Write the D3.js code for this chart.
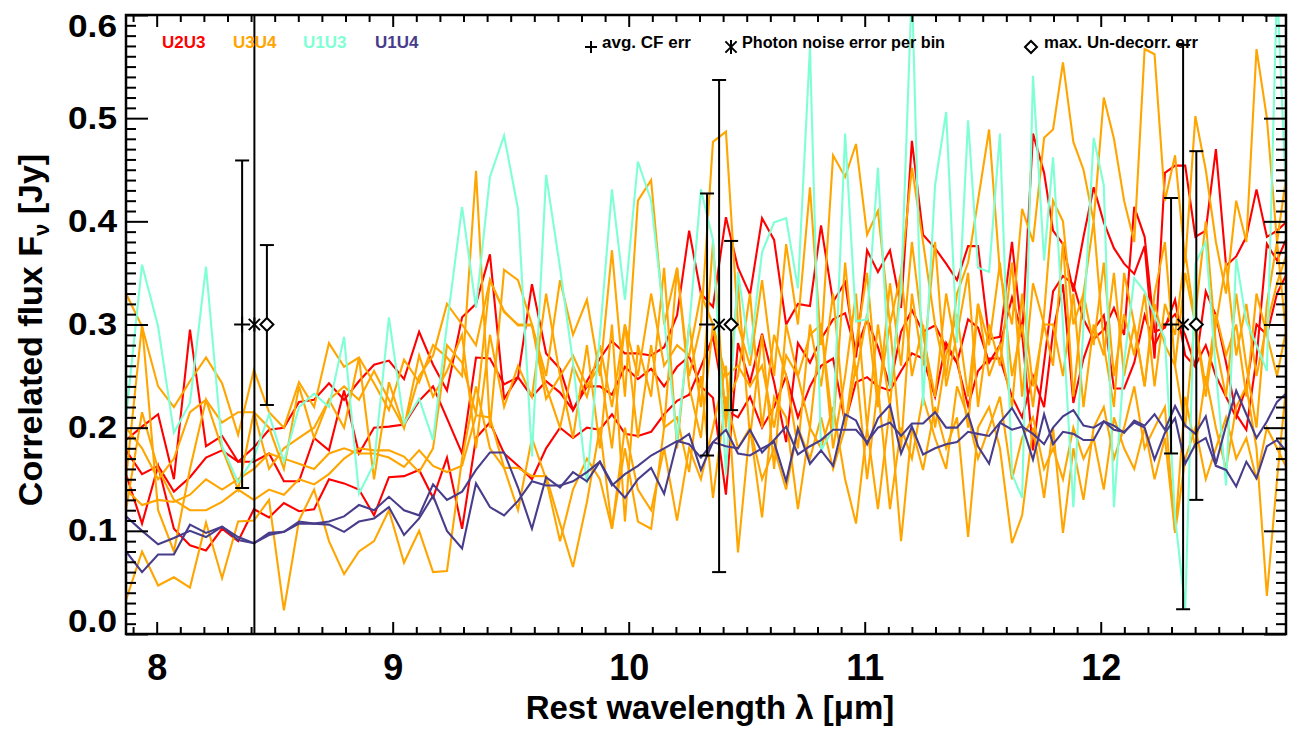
<!DOCTYPE html>
<html><head><meta charset="utf-8">
<script src="https://cdn.jsdelivr.net/npm/d3@7"></script>
<style>
body{margin:0;background:#fff}
svg{display:block}
text{font-family:"Liberation Sans",Arial,Helvetica,sans-serif;font-weight:bold}
</style>
</head><body>
<svg id="c" width="1289" height="730"></svg>
<script>
// ---------------- DATA ----------------
const wavelength = [
7.870, 7.938, 8.006, 8.073, 8.141, 8.209, 8.277, 8.345, 8.412,
8.476, 8.539, 8.603, 8.667, 8.730, 8.794, 8.857, 8.921, 8.984, 9.048, 9.112,
9.171, 9.230, 9.294, 9.353, 9.412, 9.472, 9.531, 9.590, 9.650, 9.709, 9.764, 9.823,
9.878, 9.929, 9.984, 10.039, 10.095, 10.150, 10.205, 10.256, 10.306, 10.357,
10.412, 10.463, 10.514, 10.565, 10.616, 10.667, 10.717, 10.768, 10.815,
10.866, 10.917, 10.963, 11.010, 11.056, 11.107, 11.154, 11.200, 11.247, 11.298,
11.345, 11.391, 11.438, 11.480, 11.527, 11.573, 11.624, 11.667, 11.713, 11.760,
11.798,
11.840, 11.884, 11.927, 11.970, 12.013, 12.056, 12.099, 12.142, 12.186, 12.228,
12.272, 12.315, 12.358, 12.401, 12.445, 12.488, 12.531, 12.574, 12.617, 12.660,
12.704, 12.747, 12.790];

// U2U3 (red)
const u2u3_a = [
0.188,0.201,0.213,0.150,0.295,0.182,0.192,0.167,0.181,0.198,
0.200,0.225,0.227,0.243,0.227,0.245,0.261,0.265,0.247,0.293,
0.261,0.236,0.307,0.320,0.368,0.228,0.249,0.339,0.272,0.257,
0.217,0.245,0.267,0.284,0.272,0.272,0.270,0.278,0.309,0.391,
0.330,0.317,0.404,0.355,0.329,0.403,0.382,0.300,0.320,0.318,
0.396,0.322,0.341,0.268,0.372,0.351,0.372,0.316,0.478,0.387,
0.374,0.359,0.343,0.376,0.376,0.286,0.288,0.380,0.288,0.485,
0.447,0.391,0.378,0.332,0.385,0.433,0.399,0.374,0.359,0.349,
0.376,0.267,0.447,0.454,0.454,0.385,0.391,0.470,0.357,0.366,
0.385,0.431,0.385,0.391,0.400];
const u2u3_b = [
0.178,0.155,0.163,0.138,0.152,0.171,0.178,0.167,0.167,0.175,
0.148,0.148,0.190,0.178,0.236,0.175,0.200,0.201,0.203,0.226,
0.240,0.209,0.175,0.268,0.267,0.242,0.249,0.230,0.245,0.234,
0.217,0.240,0.240,0.232,0.259,0.247,0.257,0.240,0.259,0.269,
0.240,0.229,0.135,0.282,0.244,0.291,0.244,0.186,0.282,0.263,
0.286,0.305,0.311,0.274,0.305,0.278,0.240,0.293,0.314,0.293,
0.299,0.278,0.263,0.305,0.297,0.263,0.280,0.326,0.291,0.178,
0.263,0.332,0.347,0.339,0.305,0.286,0.295,0.316,0.290,0.414,
0.385,0.293,0.297,0.324,0.270,0.259,0.332,0.309,0.263,0.213,
0.198,0.267,0.378,0.362,0.385];
const u2u3_c = [
0.155,0.107,0.163,0.102,0.086,0.081,0.102,0.090,0.121,0.113,
0.127,0.119,0.121,0.150,0.146,0.140,0.115,0.152,0.153,0.159,
0.132,0.171,0.102,0.190,0.205,0.175,0.163,0.150,0.180,0.200,
0.190,0.200,0.198,0.213,0.194,0.192,0.196,0.213,0.226,0.232,
0.259,0.288,0.217,0.210,0.230,0.200,0.220,0.250,0.210,0.240,
0.260,0.267,0.205,0.244,0.249,0.240,0.236,0.255,0.272,0.267,
0.230,0.282,0.263,0.221,0.255,0.267,0.267,0.230,0.210,0.250,
0.220,0.293,0.339,0.224,0.267,0.295,0.309,0.238,0.238,0.263,
0.309,0.280,0.300,0.310,0.290,0.260,0.280,0.250,0.230,0.210,
0.240,0.300,0.290,0.330,0.350];

// U3U4 (orange)
const u3u4_a = [
0.330,0.298,0.240,0.220,0.245,0.268,0.243,0.193,0.256,0.215,
0.200,0.244,0.220,0.282,0.259,0.268,0.243,0.217,0.266,0.244,
0.280,0.268,0.250,0.449,0.200,0.353,0.343,0.300,0.250,0.343,
0.290,0.324,0.250,0.372,0.230,0.420,0.440,0.300,0.355,0.250,
0.300,0.477,0.487,0.300,0.260,0.343,0.250,0.378,0.300,0.433,
0.280,0.464,0.443,0.475,0.387,0.410,0.300,0.350,0.452,0.380,
0.300,0.250,0.330,0.360,0.420,0.489,0.350,0.300,0.412,0.380,
0.481,0.489,0.554,0.477,0.450,0.400,0.520,0.480,0.420,0.380,
0.567,0.562,0.420,0.464,0.360,0.502,0.450,0.380,0.330,0.420,
0.380,0.567,0.500,0.380,0.450];
const u3u4_b = [
0.200,0.180,0.150,0.170,0.215,0.227,0.205,0.215,0.215,0.160,
0.180,0.190,0.200,0.227,0.240,0.227,0.255,0.227,0.200,0.250,
0.270,0.320,0.300,0.280,0.343,0.312,0.300,0.300,0.240,0.200,
0.260,0.230,0.280,0.220,0.300,0.250,0.330,0.260,0.280,0.270,
0.330,0.300,0.250,0.260,0.240,0.260,0.200,0.270,0.250,0.290,
0.300,0.200,0.360,0.250,0.310,0.220,0.340,0.260,0.380,0.290,
0.230,0.330,0.270,0.200,0.320,0.280,0.360,0.250,0.300,0.220,
0.310,0.420,0.400,0.300,0.330,0.280,0.360,0.250,0.310,0.270,
0.330,0.240,0.320,0.290,0.370,0.300,0.230,0.300,0.360,0.270,
0.320,0.250,0.300,0.340,0.370];
const u3u4_c = [
0.140,0.125,0.130,0.128,0.135,0.150,0.140,0.150,0.160,0.175,
0.170,0.165,0.160,0.175,0.180,0.175,0.175,0.171,0.162,0.178,
0.163,0.157,0.163,0.212,0.210,0.161,0.161,0.153,0.153,0.107,
0.065,0.128,0.200,0.102,0.180,0.109,0.102,0.200,0.210,0.157,
0.250,0.132,0.230,0.180,0.200,0.113,0.230,0.210,0.121,0.200,
0.180,0.220,0.150,0.107,0.200,0.121,0.220,0.090,0.200,0.159,
0.220,0.180,0.210,0.094,0.200,0.220,0.180,0.088,0.115,0.200,
0.132,0.200,0.098,0.180,0.130,0.200,0.220,0.170,0.200,0.240,
0.180,0.200,0.220,0.098,0.230,0.180,0.250,0.200,0.160,0.220,
0.240,0.180,0.037,0.150,0.250];
const u3u4_d = [
0.033,0.080,0.047,0.055,0.045,0.108,0.054,0.109,0.110,0.130,
0.023,0.110,0.140,0.090,0.058,0.080,0.090,0.120,0.069,0.100,
0.060,0.061,0.170,0.240,0.180,0.161,0.120,0.190,0.150,0.090,
0.140,0.170,0.150,0.102,0.200,0.140,0.120,0.180,0.110,0.180,
0.150,0.200,0.260,0.079,0.200,0.150,0.180,0.140,0.200,0.170,
0.210,0.160,0.200,0.260,0.150,0.240,0.121,0.200,0.170,0.230,
0.190,0.160,0.240,0.210,0.170,0.200,0.230,0.150,0.190,0.210,
0.160,0.180,0.150,0.200,0.170,0.190,0.140,0.210,0.180,0.160,
0.200,0.150,0.190,0.098,0.170,0.200,0.150,0.180,0.210,0.170,
0.190,0.150,0.200,0.180,0.160];
const u3u4_e = [
0.150,0.300,0.120,0.080,0.160,0.227,0.180,0.140,0.215,0.200,
0.160,0.240,0.190,0.227,0.200,0.268,0.150,0.244,0.200,0.270,
0.230,0.255,0.290,0.180,0.290,0.220,0.260,0.230,0.330,0.250,
0.190,0.280,0.180,0.300,0.109,0.280,0.230,0.355,0.180,0.300,
0.220,0.380,0.200,0.340,0.190,0.290,0.160,0.300,0.250,0.200,
0.300,0.180,0.250,0.330,0.200,0.300,0.220,0.350,0.250,0.300,
0.200,0.270,0.310,0.230,0.320,0.250,0.280,0.220,0.330,0.240,
0.300,0.300,0.250,0.330,0.220,0.300,0.270,0.350,0.250,0.300,
0.240,0.320,0.280,0.260,0.350,0.300,0.240,0.310,0.270,0.300,
0.230,0.330,0.290,0.250,0.300];
const u3u4_f = [
0.120,0.215,0.160,0.130,0.120,0.120,0.128,0.140,0.130,0.140,
0.135,0.150,0.145,0.155,0.170,0.180,0.178,0.178,0.172,0.157,
0.180,0.280,0.263,0.213,0.343,0.313,0.299,0.299,0.228,0.250,
0.270,0.240,0.260,0.180,0.300,0.190,0.280,0.200,0.355,0.240,
0.190,0.300,0.220,0.250,0.330,0.200,0.290,0.250,0.180,0.300,
0.240,0.330,0.200,0.280,0.350,0.230,0.300,0.180,0.330,0.260,
0.380,0.240,0.290,0.350,0.220,0.300,0.260,0.360,0.230,0.340,
0.300,0.260,0.380,0.230,0.330,0.400,0.280,0.220,0.350,0.300,
0.240,0.330,0.380,0.260,0.200,0.310,0.400,0.280,0.230,0.330,
0.260,0.200,0.320,0.380,0.280];

// U1U3 (aquamarine)
const u1u3_a = [
0.210,0.358,0.298,0.195,0.224,0.356,0.182,0.147,0.171,0.213,
0.167,0.220,0.233,0.220,0.288,0.136,0.165,0.307,0.204,0.228,
0.188,0.300,0.414,0.316,0.443,0.483,0.412,0.172,0.445,0.355,
0.263,0.146,0.290,0.431,0.324,0.458,0.420,0.305,0.188,0.297,
0.431,0.382,0.154,0.351,0.270,0.370,0.399,0.403,0.335,0.569,
0.178,0.199,0.485,0.303,0.305,0.452,0.238,0.332,0.630,0.221,
0.435,0.506,0.282,0.498,0.355,0.351,0.485,0.155,0.132,0.541,
0.362,0.462,0.300,0.123,0.300,0.481,0.435,0.123,0.263,0.345,
0.332,0.309,0.286,0.113,0.025,0.359,0.380,0.255,0.144,0.364,
0.303,0.280,0.255,0.630,0.400];

// U1U4 (dark slate blue)
const u1u4_a = [
0.114,0.100,0.087,0.093,0.100,0.094,0.104,0.091,0.088,0.096,
0.099,0.109,0.107,0.109,0.114,0.125,0.120,0.133,0.120,0.115,
0.145,0.130,0.138,0.159,0.176,0.176,0.142,0.102,0.152,0.142,
0.157,0.148,0.167,0.146,0.132,0.150,0.161,0.136,0.186,0.194,
0.159,0.186,0.198,0.175,0.173,0.180,0.186,0.148,0.199,0.165,
0.178,0.163,0.213,0.207,0.184,0.209,0.222,0.175,0.201,0.174,
0.180,0.184,0.186,0.196,0.194,0.192,0.205,0.198,0.201,0.194,
0.184,0.200,0.211,0.217,0.202,0.200,0.206,0.202,0.195,0.207,
0.202,0.213,0.198,0.221,0.202,0.194,0.211,0.165,0.202,0.236,
0.213,0.190,0.206,0.225,0.234];
const u1u4_b = [
0.080,0.060,0.077,0.077,0.106,0.098,0.104,0.094,0.088,0.098,
0.099,0.107,0.107,0.106,0.099,0.109,0.112,0.123,0.096,0.112,
0.134,0.100,0.083,0.146,0.123,0.115,0.129,0.148,0.144,0.144,
0.148,0.157,0.167,0.144,0.155,0.163,0.173,0.180,0.187,0.184,
0.171,0.186,0.182,0.180,0.198,0.176,0.188,0.201,0.174,0.182,
0.188,0.198,0.198,0.198,0.186,0.200,0.205,0.192,0.204,0.204,
0.215,0.200,0.200,0.213,0.182,0.165,0.205,0.219,0.202,0.169,
0.213,0.184,0.196,0.194,0.188,0.188,0.206,0.198,0.196,0.205,
0.200,0.169,0.195,0.209,0.165,0.184,0.190,0.163,0.159,0.143,
0.167,0.151,0.182,0.188,0.176];

// error bars (all centred on 0.3 Jy)
const errCentre = [0.3, 0.3, 0.3];
const cfErrX = [8.362, 10.332, 12.298];
const cfErrLo = [0.1415, 0.173, 0.175];
const cfErrHi = [0.459, 0.427, 0.4226];
const photErrX = [8.414, 10.383, 12.349];
const photErrLo = [-0.3, 0.060, 0.024];
const photErrHi = [0.9, 0.537, 0.571];
const decErrX = [8.467, 10.434, 12.405];
const decErrLo = [0.222, 0.217, 0.130];
const decErrHi = [0.377, 0.381, 0.468];

const baselineNames = ["U2U3", "U3U4", "U1U3", "U1U4"];
const baselineColors = ["#ff0000", "#ffa500", "#7fffd4", "#483d8b"];
const xTickValues = [8, 9, 10, 11, 12];
const yTickValues = [0, 0.1, 0.2, 0.3, 0.4, 0.5, 0.6];
const yTickLabels = ["0.0", "0.1", "0.2", "0.3", "0.4", "0.5", "0.6"];

// ---------------- DRAW ----------------
const L = 126, R = 1286, T = 15, B = 634;
const svg = d3.select("#c");
const x = d3.scaleLinear().domain([7.87, 12.785]).range([L, R]);
const y = d3.scaleLinear().domain([0, 0.6]).range([B, T]);

svg.append("defs").append("clipPath").attr("id", "clip")
  .append("rect").attr("x", L).attr("y", T).attr("width", R - L).attr("height", B - T);

const plot = svg.append("g").attr("clip-path", "url(#clip)");
const line = d3.line().x((d, i) => x(wavelength[i])).y(d => y(d));

const groups = [
  [u2u3_a, u2u3_b, u2u3_c],
  [u3u4_a, u3u4_b, u3u4_c, u3u4_d, u3u4_e, u3u4_f],
  [u1u3_a],
  [u1u4_a, u1u4_b]
];
groups.forEach((g, gi) => {
  g.forEach(s => {
    plot.append("path").attr("d", line(s)).attr("fill", "none")
      .attr("stroke", baselineColors[gi]).attr("stroke-width", 2.1)
      .attr("stroke-linejoin", "miter");
  });
});

// error bars
const errG = plot.append("g").attr("stroke", "#000").attr("stroke-width", 2).attr("fill", "none");
function errorBar(xv, lo, hi) {
  const px = x(xv);
  errG.append("line").attr("x1", px).attr("x2", px).attr("y1", y(lo)).attr("y2", y(hi));
  errG.append("line").attr("x1", px - 7).attr("x2", px + 7).attr("y1", y(lo)).attr("y2", y(lo));
  errG.append("line").attr("x1", px - 7).attr("x2", px + 7).attr("y1", y(hi)).attr("y2", y(hi));
}
function plusMark(g, px, py, s) {
  g.append("line").attr("x1", px - s).attr("x2", px + s).attr("y1", py).attr("y2", py);
  g.append("line").attr("x1", px).attr("x2", px).attr("y1", py - s).attr("y2", py + s);
}
function starMark(g, px, py, s) {
  g.append("line").attr("x1", px).attr("x2", px).attr("y1", py - s).attr("y2", py + s);
  const d = s * 0.8;
  g.append("line").attr("x1", px - d).attr("x2", px + d).attr("y1", py - d).attr("y2", py + d);
  g.append("line").attr("x1", px - d).attr("x2", px + d).attr("y1", py + d).attr("y2", py - d);
}
function diamondMark(g, px, py, s) {
  g.append("path").attr("d", `M${px - s},${py}L${px},${py - s}L${px + s},${py}L${px},${py + s}Z`)
    .attr("fill", "#fff");
}
for (let i = 0; i < 3; i++) {
  errorBar(cfErrX[i], cfErrLo[i], cfErrHi[i]);
  errorBar(photErrX[i], photErrLo[i], photErrHi[i]);
  errorBar(decErrX[i], decErrLo[i], decErrHi[i]);
  plusMark(errG, x(cfErrX[i]), y(errCentre[i]), 8);
  starMark(errG, x(photErrX[i]), y(errCentre[i]), 7);
  diamondMark(errG, x(decErrX[i]), y(errCentre[i]), 6.5);
}

// axes
const xMinor = d3.range(79, 128).map(k => k / 10).filter(v => Math.abs(v - Math.round(v)) > 1e-6);
const yMinor = d3.range(0, 61).map(k => k / 100).filter(v => Math.abs(v * 10 - Math.round(v * 10)) > 1e-6);

function styleAxis(g) {
  g.select(".domain").remove();
  g.selectAll(".tick line").attr("stroke", "#000").attr("stroke-width", 2);
}
svg.append("g").attr("transform", `translate(0,${B})`)
  .call(d3.axisBottom(x).tickValues(xMinor).tickSize(-7).tickFormat("")).call(styleAxis);
const xAx = svg.append("g").attr("transform", `translate(0,${B})`)
  .call(d3.axisBottom(x).tickValues(xTickValues).tickSize(-12).tickPadding(20).tickFormat(d3.format("d")))
  .call(styleAxis);
xAx.selectAll("text").attr("font-size", 36).attr("font-weight", "bold")
  .attr("font-family", '"Liberation Sans",Arial,sans-serif').attr("fill", "#000");

svg.append("g").attr("transform", `translate(0,${T})`)
  .call(d3.axisTop(x).tickValues(xMinor).tickSize(-7).tickFormat("")).call(styleAxis);
svg.append("g").attr("transform", `translate(0,${T})`)
  .call(d3.axisTop(x).tickValues(xTickValues).tickSize(-12).tickFormat("")).call(styleAxis);

svg.append("g").attr("transform", `translate(${L},0)`)
  .call(d3.axisLeft(y).tickValues(yMinor).tickSize(-10).tickFormat("")).call(styleAxis);
const yAx = svg.append("g").attr("transform", `translate(${L},0)`)
  .call(d3.axisLeft(y).tickValues(yTickValues).tickSize(-22).tickPadding(9)
    .tickFormat((d, i) => yTickLabels[i]))
  .call(styleAxis);
yAx.selectAll("text").attr("font-size", 31).attr("font-weight", "bold")
  .attr("font-family", '"Liberation Sans",Arial,sans-serif').attr("fill", "#000")
  .attr("textLength", 49).attr("lengthAdjust", "spacingAndGlyphs")
  .attr("y", d => d === 0 ? -12 : (d === 0.6 ? 12 : 0));

svg.append("g").attr("transform", `translate(${R},0)`)
  .call(d3.axisRight(y).tickValues(yMinor).tickSize(-10).tickFormat("")).call(styleAxis);
svg.append("g").attr("transform", `translate(${R},0)`)
  .call(d3.axisRight(y).tickValues(yTickValues).tickSize(-22).tickFormat("")).call(styleAxis);

svg.append("rect").attr("x", L).attr("y", T).attr("width", R - L).attr("height", B - T)
  .attr("fill", "none").attr("stroke", "#000").attr("stroke-width", 2.5);

// axis titles
svg.append("text").attr("x", 710).attr("y", 719).attr("text-anchor", "middle")
  .attr("font-size", 33).text("Rest wavelength λ [μm]");
const yt = svg.append("text").attr("transform", "translate(42,330) rotate(-90)")
  .attr("text-anchor", "middle").attr("font-size", 34);
yt.append("tspan").text("Correlated flux F");
yt.append("tspan").attr("font-size", 22).attr("dy", 7).text("ν");
yt.append("tspan").attr("dy", -7).text(" [Jy]");

// legend: baselines
const legX = [162, 233, 303, 375];
baselineNames.forEach((n, i) => {
  svg.append("text").attr("x", legX[i]).attr("y", 48).attr("font-size", 17)
    .attr("fill", baselineColors[i]).text(n);
});
// legend: error symbols
const lg = svg.append("g").attr("stroke", "#000").attr("stroke-width", 2).attr("fill", "none");
plusMark(lg, 591, 47, 6);
starMark(lg, 731, 47, 7);
diamondMark(lg, 1031, 47, 6);
const symText = [
  {x: 602, w: 89, t: "avg. CF err"},
  {x: 742, w: 203, t: "Photon noise error per bin"},
  {x: 1044, w: 154, t: "max. Un-decorr. err"}
];
symText.forEach(s => {
  svg.append("text").attr("x", s.x).attr("y", 48).attr("font-size", 16)
    .attr("textLength", s.w).attr("lengthAdjust", "spacingAndGlyphs").text(s.t);
});
</script>
</body></html>
